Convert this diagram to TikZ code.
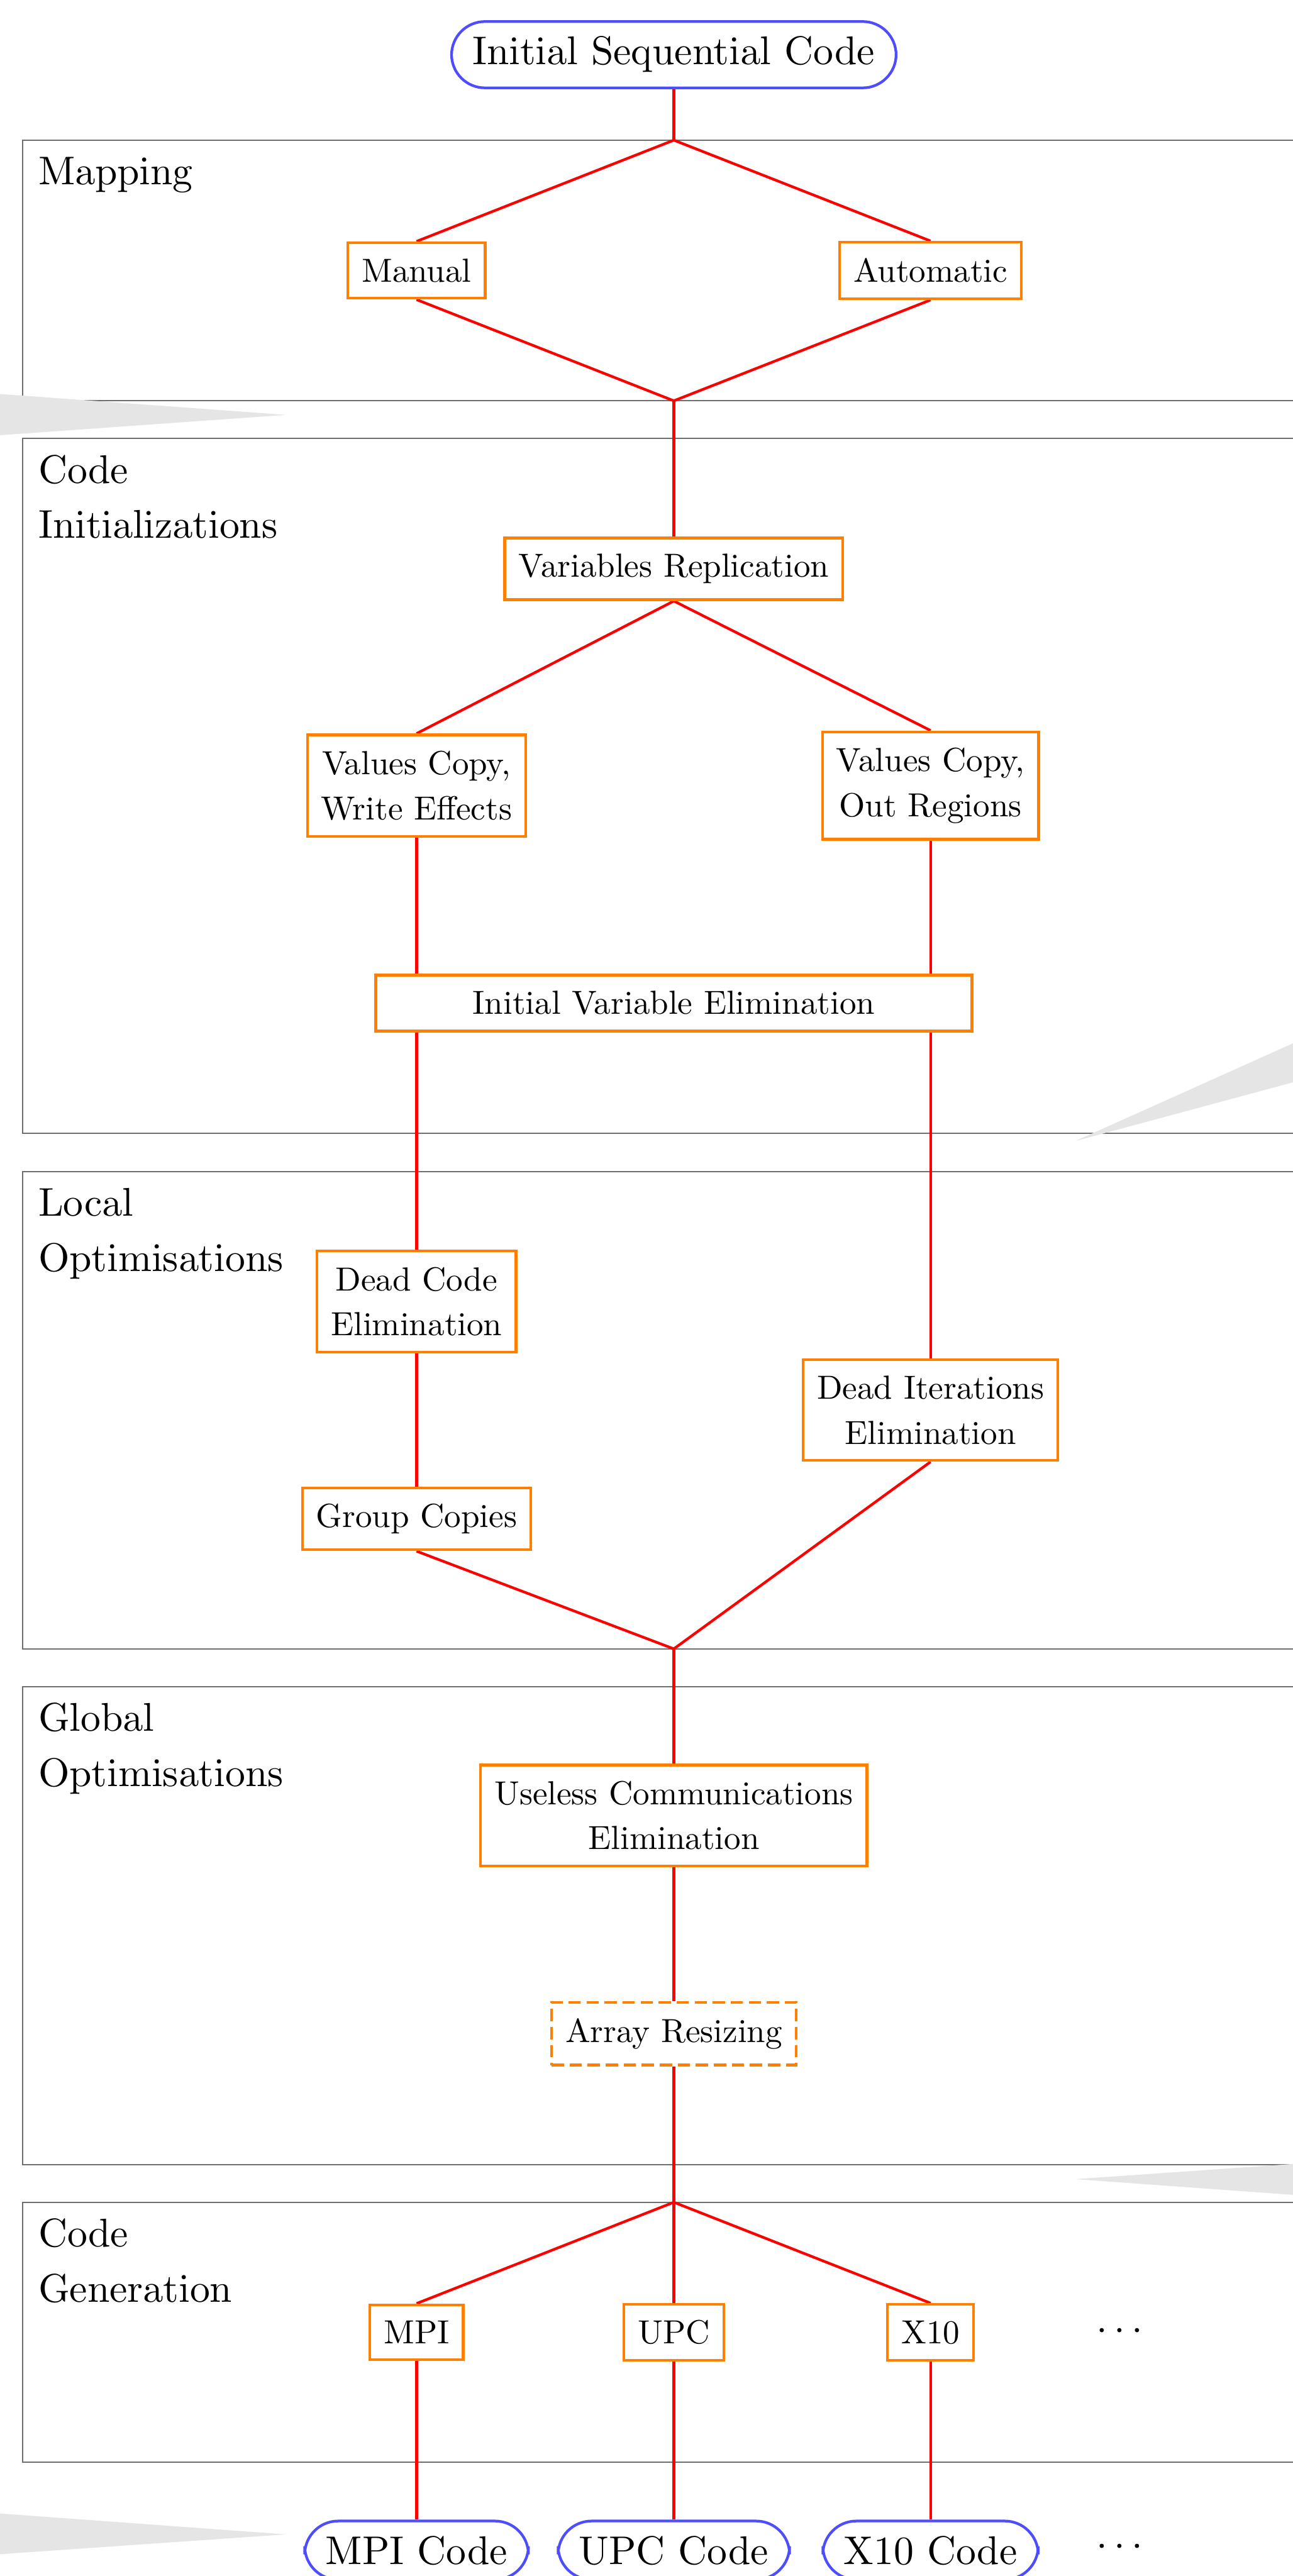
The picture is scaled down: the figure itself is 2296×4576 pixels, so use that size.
\documentclass[tikz,border=0pt]{standalone}
\pgfdeclarelayer{back}
\pgfsetlayers{back,main}
\definecolor{flowred}{RGB}{255,0,0}
\definecolor{steporange}{RGB}{255,128,0}
\definecolor{endblue}{RGB}{77,77,255}
\definecolor{framegray}{RGB}{110,110,110}
\definecolor{wedgegray}{RGB}{229,229,229}
% 10pt design scaled to 12pt for labels and end points
\font\bigrm=cmr10 at 12pt
\tikzset{
  stage/.style={draw=steporange, line width=0.8pt, fill=white,
    inner xsep=4.15pt, inner ysep=4.8pt, align=center,
    font=\fontsize{10}{13.5}\selectfont},
  optstage/.style={stage, dash pattern=on 3.7pt off 1.7pt},
  codeend/.style={draw=endblue, line width=0.8pt, fill=white,
    rounded corners=10pt, inner xsep=6.25pt, inner ysep=4.6pt,
    font={\fontsize{12}{14}\selectfont\bigrm}},
  phase/.style={draw=framegray, line width=0.4pt},
  phaselabel/.style={anchor=base west, inner sep=0pt, align=left,
    font={\fontsize{12}{16.5}\selectfont\bigrm}},
  flow/.style={draw=flowred, line width=0.8pt, line join=round},
  pointer/.style={fill=wedgegray},
}
\begin{document}
\begin{tikzpicture}[x=0.16863pt, y=-0.16863pt]
\useasboundingbox (0,0) rectangle (2296,4576);

% source program
\node[codeend, anchor=base] (src) at (1197,115) {Initial Sequential Code};

% mapping
\node[stage] (manual) at (740,480.5) {Manual};
\node[stage] (auto) at (1653,480.5) {Automatic};

% code initializations
\node[stage] (varrep) at (1197,1010.5) {Variables Replication};
\node[stage] (vcwe) at (740,1395.5) {Values Copy,\\Write Effects};
\node[stage] (vcor) at (1653,1395.5) {Values Copy,\\Out Regions};
\node[stage, minimum width=178.6pt] (ive) at (1197,1782) {Initial Variable Elimination};

% local optimisations
\node[stage] (dce) at (740,2312) {Dead Code\\Elimination};
\node[stage] (die) at (1653,2505) {Dead Iterations\\Elimination};
\node[stage] (gc) at (740,2698) {Group Copies};

% global optimisations
\node[stage] (uce) at (1197,3225) {Useless Communications\\Elimination};
\node[optstage] (ar) at (1197,3612.5) {Array Resizing};

% code generation
\node[stage] (mpi) at (740,4143) {MPI};
\node[stage] (upc) at (1197,4143) {UPC};
\node[stage] (x10) at (1653,4143) {X10};
\node (moregen) at (1989,4142) {\large$\cdots$};

% generated programs
\node[codeend, anchor=base] (mpic) at (740,4555) {MPI Code};
\node[codeend, anchor=base] (upcc) at (1197,4555) {UPC Code};
\node[codeend, anchor=base] (x10c) at (1653,4555) {X10 Code};
\node (morecode) at (1989,4525) {\large$\cdots$};

% phase labels (base of the last line)
\node[phaselabel] (lblmap) at (67,328) {Mapping};
\node[phaselabel] (lblinit) at (67,956) {Code\\Initializations};
\node[phaselabel] (lbllocal) at (67,2258) {Local\\Optimisations};
\node[phaselabel] (lblglobal) at (67,3173) {Global\\Optimisations};
\node[phaselabel] (lblgen) at (67,4089) {Code\\Generation};

% junctions on the phase borders
\coordinate (j1) at (1197,249);
\coordinate (j2) at (1197,712);
\coordinate (j3) at (1197,2929);
\coordinate (j4) at (1197,3912);

\begin{pgfonlayer}{back}
  % phase frames
  \draw[phase] (2500,249) -- (40,249) -- (40,712) -- (2500,712);
  \draw[phase] (2500,779) -- (40,779) -- (40,2013) -- (2500,2013);
  \draw[phase] (2500,2081) -- (40,2081) -- (40,2929) -- (2500,2929);
  \draw[phase] (2500,2996) -- (40,2996) -- (40,3845) -- (2500,3845);
  \draw[phase] (2500,3912) -- (40,3912) -- (40,4374) -- (2500,4374);

  % pointer wedges
  \fill[pointer] (-40,697) -- (508,737) -- (-40,776) -- cycle;
  \fill[pointer] (2340,1834) -- (1910,2027) -- (2340,1911) -- cycle;
  \fill[pointer] (2340,3841) -- (1910,3871) -- (2340,3902) -- cycle;
  \fill[pointer] (-40,4462) -- (508,4502) -- (-40,4540) -- cycle;

  % flow
  \draw[flow] (src.south) -- (j1);
  \draw[flow] (manual.north) -- (j1) -- (auto.north);
  \draw[flow] (manual.south) -- (j2) -- (auto.south);
  \draw[flow] (j2) -- (varrep.north);
  \draw[flow] (vcwe.north) -- (varrep.south) -- (vcor.north);
  \draw[flow] (vcwe.south) -- (dce.north);
  \draw[flow] (vcor.south) -- (die.north);
  \draw[flow] (dce.south) -- (gc.north);
  \draw[flow] (gc.south) -- (j3) -- (die.south);
  \draw[flow] (j3) -- (uce.north);
  \draw[flow] (uce.south) -- (ar.north);
  \draw[flow] (ar.south) -- (j4);
  \draw[flow] (mpi.north) -- (j4) -- (x10.north);
  \draw[flow] (j4) -- (upc.north);
  \draw[flow] (mpi.south) -- (mpic.north);
  \draw[flow] (upc.south) -- (upcc.north);
  \draw[flow] (x10.south) -- (x10c.north);
\end{pgfonlayer}
\end{tikzpicture}
\end{document}
